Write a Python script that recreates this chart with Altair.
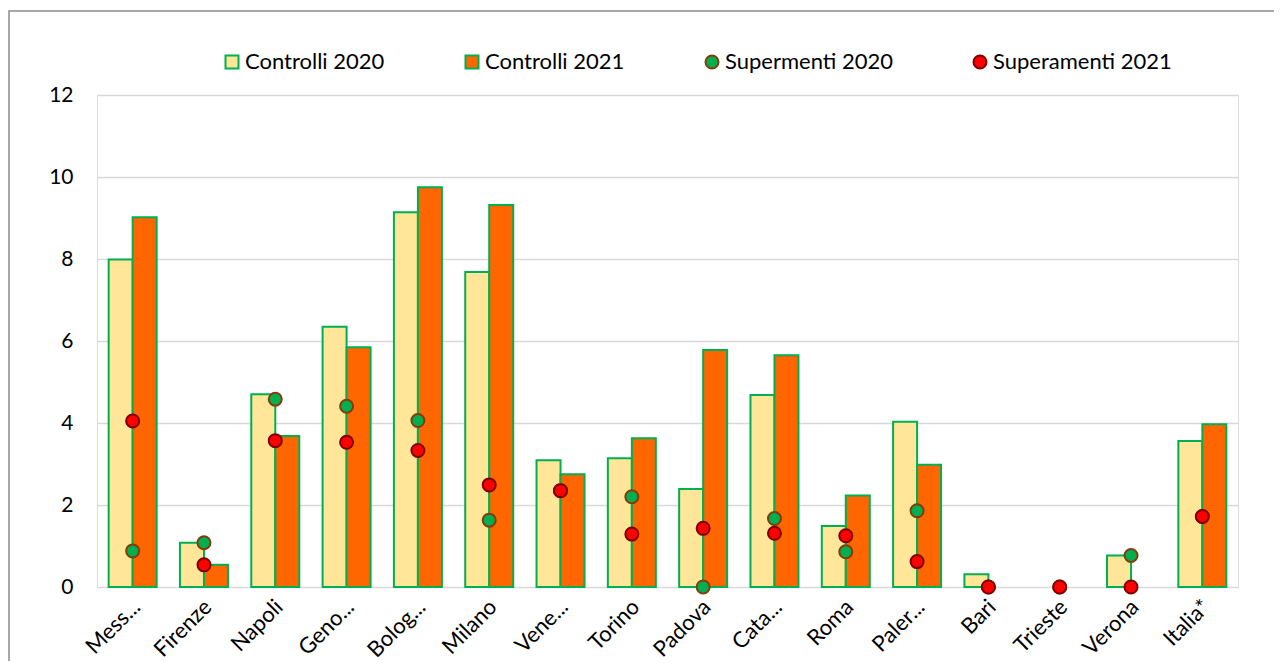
import altair as alt
import pandas as pd

categories = ["Mess...", "Firenze", "Napoli", "Geno...", "Bolog...", "Milano", "Vene...", "Torino",
              "Padova", "Cata...", "Roma", "Paler...", "Bari", "Trieste", "Verona", "Italia*"]
controlli_2020 = [7.99, 1.08, 4.70, 6.35, 9.14, 7.68, 3.09, 3.14, 2.39, 4.68, 1.49, 4.03, 0.31, 0.0, 0.77, 3.56]
controlli_2021 = [9.02, 0.54, 3.68, 5.85, 9.75, 9.32, 2.75, 3.63, 5.78, 5.65, 2.23, 2.98, 0.0, 0.0, 0.0, 3.97]
supermenti_2020 = [0.88, 1.08, 4.58, 4.41, 4.06, 1.63, 2.35, 2.20, 0.0, 1.67, 0.86, 1.86, 0.0, 0.0, 0.77, 1.72]
superamenti_2021 = [4.05, 0.54, 3.57, 3.53, 3.33, 2.49, 2.35, 1.29, 1.43, 1.31, 1.25, 0.62, 0.0, 0.0, 0.0, 1.72]

series_names = ["Controlli 2020", "Controlli 2021", "Supermenti 2020", "Superamenti 2021"]
fills = ["#FFE699", "#FF6600", "#00B050", "#FF0000"]
strokes = ["#00B050", "#00B050", "#843C0C", "#7F0000"]
shapes = ["square", "square", "circle", "circle"]
sizes = [169, 169, 169, 306]

n = len(categories)
bars_df = pd.DataFrame({
    "cat": categories * 2,
    "series": [series_names[0]] * n + [series_names[1]] * n,
    "value": controlli_2020 + controlli_2021,
})
pts_df = pd.DataFrame({
    "cat": categories * 2,
    "series": [series_names[2]] * n + [series_names[3]] * n,
    "value": supermenti_2020 + superamenti_2021,
})

FONT = "Lato"
TXT = "#000000"

fill_scale = alt.Scale(domain=series_names, range=fills)
stroke_scale = alt.Scale(domain=series_names, range=strokes)
shape_scale = alt.Scale(domain=series_names, range=shapes)

legend = alt.Legend(
    title=None, orient="none", legendX=124, legendY=-44, direction="horizontal",
    columns=4, columnPadding=76, labelFont=FONT, labelFontSize=22, labelColor=TXT,
    symbolSize=169, symbolStrokeWidth=2, labelOffset=2, padding=0, labelLimit=400,
)

x_enc = alt.X(
    "cat:N", sort=categories,
    scale=alt.Scale(paddingInner=0.327, paddingOuter=0.1635),
    axis=alt.Axis(
        title=None, labelAngle=-45, labelAlign="right", labelBaseline="middle",
        labelPadding=16, labelOffset=4, labelFont=FONT, labelFontSize=22,
        labelColor=TXT, domain=False, ticks=False, grid=False,
    ),
)
y_enc = alt.Y(
    "value:Q", scale=alt.Scale(domain=[0, 12], nice=False),
    axis=alt.Axis(
        values=[0, 2, 4, 6, 8, 10, 12], title=None, grid=True, gridColor="#D9D9D9",
        gridWidth=1.5, domain=False, ticks=False, labelPadding=24, labelFont=FONT,
        labelFontSize=21, labelColor=TXT,
    ),
)

bars = alt.Chart(bars_df).transform_filter("datum.value > 0").mark_bar(strokeWidth=2).encode(
    x=x_enc,
    xOffset=alt.XOffset("series:N", sort=series_names[:2]),
    y=y_enc,
    fill=alt.Fill("series:N", scale=fill_scale, legend=legend),
    stroke=alt.Stroke("series:N", scale=stroke_scale, legend=legend),
)

points = alt.Chart(pts_df).mark_point(filled=True, opacity=1, strokeWidth=2).encode(
    x=x_enc,
    y=y_enc,
    fill=alt.Fill("series:N", scale=fill_scale, legend=legend),
    stroke=alt.Stroke("series:N", scale=stroke_scale, legend=legend),
    shape=alt.Shape("series:N", scale=shape_scale, legend=legend),
    size=alt.Size("series:N", scale=alt.Scale(domain=series_names, range=sizes), legend=None),
)

border = alt.Chart(pd.DataFrame({"b": [0]})).mark_rect(
    fillOpacity=0, stroke="#8C8C8C", strokeWidth=1.5
).encode(
    x=alt.value(-88), x2=alt.value(1400), y=alt.value(-84), y2=alt.value(900)
)

chart = alt.layer(bars, points, border).properties(
    width=1141, height=492,
    autosize=alt.AutoSizeParams(type="none"),
    padding={"left": 89, "top": 87, "right": 36, "bottom": 74},
).configure_view(stroke=None).configure(font=FONT)

chart.save("out.html", embed_options={"renderer": "svg", "actions": False})
